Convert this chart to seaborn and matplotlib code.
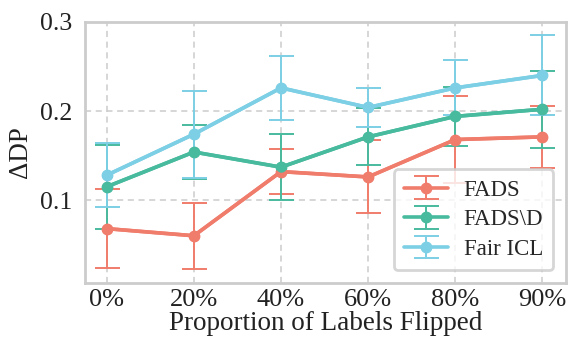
import numpy as np
import pandas as pd
import matplotlib
import matplotlib.pyplot as plt
import seaborn as sns

# values
flip_labels = ['0%', '20%', '40%', '60%', '80%', '90%']
fads = [0.068, 0.060, 0.132, 0.126, 0.168, 0.171]
fads_err = [0.044, 0.037, 0.025, 0.041, 0.049, 0.035]
fads_nod = [0.115, 0.154, 0.137, 0.171, 0.194, 0.202]
fads_nod_err = [0.047, 0.030, 0.037, 0.032, 0.033, 0.043]
fair_icl = [0.128, 0.174, 0.226, 0.204, 0.226, 0.240]
fair_icl_err = [0.036, 0.049, 0.036, 0.022, 0.031, 0.045]

methods = ['FADS', 'FADS\\D', 'Fair ICL']
colors = ['#F07C6C', '#48BA9E', '#7CCFE4']

sns.set_theme(style='whitegrid')
matplotlib.rcParams['font.family'] = ['Liberation Serif', 'DejaVu Serif']
fs = 19.5

x = np.arange(len(flip_labels))
df = pd.DataFrame({
    'x': np.tile(x, 3),
    'value': fads + fads_nod + fair_icl,
    'method': np.repeat(methods, len(x)),
})

fig, ax = plt.subplots(figsize=(5.74, 3.43), dpi=100)

sns.lineplot(data=df, x='x', y='value', hue='method', hue_order=methods,
             palette=colors, marker='o', markersize=7.5, markeredgewidth=0,
             linewidth=2.6, legend=False, ax=ax)

for vals, errs, col, name in zip([fads, fads_nod, fair_icl],
                                 [fads_err, fads_nod_err, fair_icl_err],
                                 colors, methods):
    ax.errorbar(x, vals, yerr=errs, color=col, fmt='-o', markersize=7.5,
                linewidth=2.6, elinewidth=1.4, capsize=9, capthick=1.4,
                label=name, zorder=1)

ax.set_xticks(x)
ax.set_xticklabels(flip_labels)
ax.set_xlim(-0.25, 5.27)
ax.set_ylim(0.007, 0.3)
ax.set_yticks([0.1, 0.2, 0.3])
ax.set_yticklabels(['0.1', '0.2', '0.3'])
ax.tick_params(length=0, colors='#222222')
ax.tick_params(axis='x', labelsize=19, pad=4)
ax.tick_params(axis='y', labelsize=18.5, pad=9)

ax.grid(True, linestyle=(0, (4, 3)), color='#CCCCCC', linewidth=1.1)
for sp in ax.spines.values():
    sp.set_color('#CCCCCC')
    sp.set_linewidth(2)

ax.set_xlabel('Proportion of Labels Flipped', fontsize=fs, labelpad=0, color='#222222')
ax.set_ylabel('ΔDP', fontsize=fs, color='#222222', labelpad=5)

leg = ax.legend(loc='lower right', fontsize=16.5, frameon=True, handlelength=1.9,
                borderpad=0.45, labelspacing=0.38, handletextpad=0.7,
                borderaxespad=0.55)
leg.get_frame().set_edgecolor('#CCCCCC')
leg.get_frame().set_linewidth(2)

fig.subplots_adjust(left=0.148, right=0.986, top=0.936, bottom=0.175)
fig.savefig('out.png', dpi=100)
